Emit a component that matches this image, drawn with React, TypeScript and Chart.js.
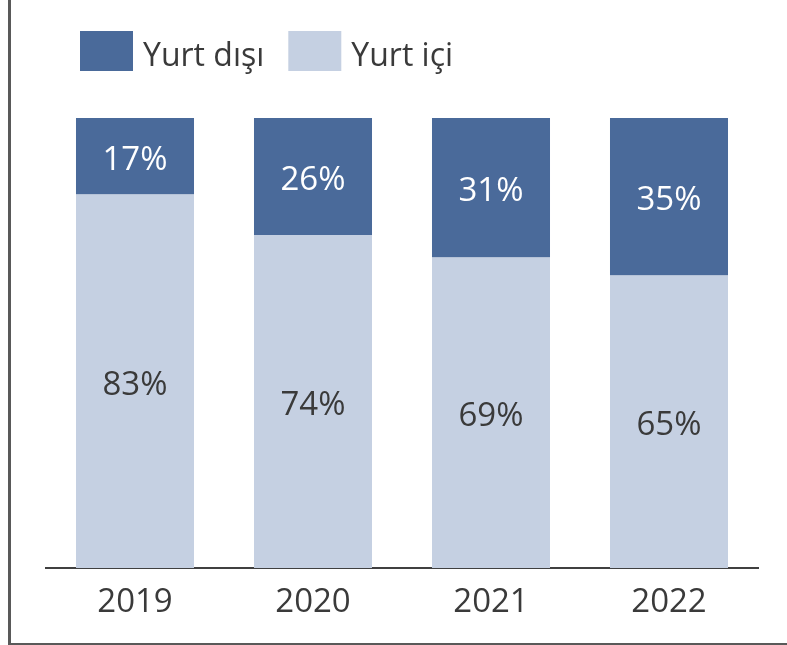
import React, { useEffect, useRef } from "react";
import { Chart, registerables } from "chart.js";
Chart.register(...registerables);

const categories = ["2019", "2020", "2021", "2022"];
const seriesNames = ["Yurt dışı", "Yurt içi"];
const yurtDisi = [17, 26, 31, 35];
const yurtIci = [83, 74, 69, 65];

const DARK = "#4a6a9a";
const LIGHT = "#c5d0e2";
const TEXT = "#3a3a3a";
const FONT = "'Open Sans', 'Noto Sans', sans-serif";

export default function App() {
  const ref = useRef<HTMLCanvasElement | null>(null);

  useEffect(() => {
    if (!ref.current) return;

    const framePlugin = {
      id: "frame",
      beforeDraw(chart: any) {
        const ctx = chart.ctx;
        ctx.save();
        ctx.fillStyle = "#ffffff";
        ctx.fillRect(0, 0, chart.width, chart.height);
        ctx.fillStyle = "#595959";
        ctx.fillRect(8, 0, 3, chart.height);
        ctx.fillRect(8, chart.height - 2, chart.width - 8, 2);
        ctx.restore();
      },
    };

    const legendPlugin = {
      id: "customLegend",
      afterDraw(chart: any) {
        const ctx = chart.ctx;
        ctx.save();
        ctx.font = `32px ${FONT}`;
        ctx.textBaseline = "alphabetic";
        ctx.textAlign = "left";
        const items = [
          { label: seriesNames[0], color: DARK },
          { label: seriesNames[1], color: LIGHT },
        ];
        let x = 80;
        items.forEach((it) => {
          ctx.fillStyle = it.color;
          ctx.fillRect(x, 31, 53, 40);
          ctx.fillStyle = TEXT;
          ctx.fillText(it.label, x + 63, 66);
          x += 63 + ctx.measureText(it.label).width + 24;
        });
        ctx.restore();
      },
    };

    const labelPlugin = {
      id: "barLabels",
      afterDatasetsDraw(chart: any) {
        const ctx = chart.ctx;
        ctx.save();
        ctx.font = `33px ${FONT}`;
        ctx.textAlign = "center";
        ctx.textBaseline = "alphabetic";
        chart.data.datasets.forEach((ds: any, di: number) => {
          const meta = chart.getDatasetMeta(di);
          meta.data.forEach((el: any, i: number) => {
            const p = el.getProps(["x", "y", "base"], true);
            const cy = (p.y + p.base) / 2;
            ctx.fillStyle = ds.labelColor;
            ctx.fillText(ds.data[i] + "%", p.x, cy + 13.5);
          });
        });
        ctx.restore();
      },
    };

    const chart = new Chart(ref.current, {
      type: "bar",
      data: {
        labels: categories,
        datasets: [
          {
            label: seriesNames[1],
            data: yurtIci,
            backgroundColor: LIGHT,
            labelColor: TEXT,
            categoryPercentage: 1,
            barPercentage: 0.663,
          } as any,
          {
            label: seriesNames[0],
            data: yurtDisi,
            backgroundColor: DARK,
            labelColor: "#ffffff",
            categoryPercentage: 1,
            barPercentage: 0.663,
          } as any,
        ],
      },
      options: {
        responsive: false,
        animation: false,
        layout: { padding: { top: 118, left: 46, right: 29, bottom: 0 } },
        plugins: {
          legend: { display: false },
          tooltip: { enabled: false },
        },
        scales: {
          x: {
            stacked: true,
            grid: { display: false, drawTicks: false },
            border: { display: true, color: "#404040", width: 2 },
            ticks: {
              color: TEXT,
              font: { family: FONT, size: 33 },
              padding: 15,
            },
            afterFit(scale: any) {
              scale.height = 77;
            },
          },
          y: {
            stacked: true,
            display: false,
            min: 0,
            max: 100,
          },
        },
      },
      plugins: [framePlugin, legendPlugin, labelPlugin],
    });

    return () => chart.destroy();
  }, []);

  return (
    <div style={{ position: "absolute", left: 0, top: 0, width: 787, height: 645 }}>
      <canvas ref={ref} width={787} height={645} style={{ display: "block" }} />
    </div>
  );
}
